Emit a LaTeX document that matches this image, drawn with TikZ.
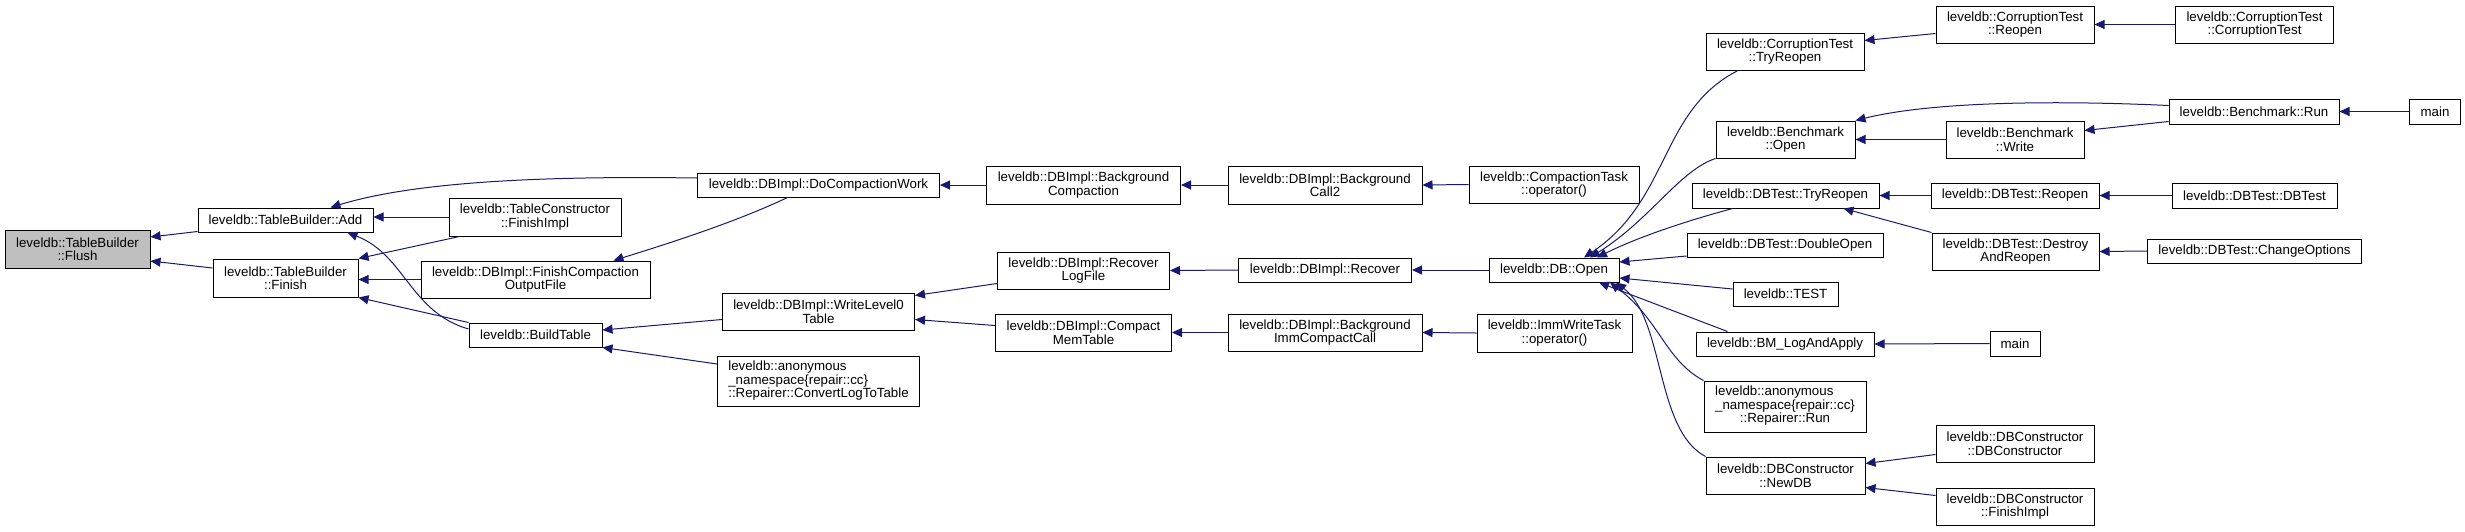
\documentclass[tikz,border=0pt]{standalone}
\usepackage{fontspec}
\setmainfont{Liberation Sans}
\definecolor{edgeBlue}{HTML}{191970}
\definecolor{rootGray}{HTML}{BFBFBF}
\usetikzlibrary{arrows.meta}

\begin{document}
\begin{tikzpicture}[x=1pt, y=-1pt,
    every node/.style={font=\fontsize{13.3}{13.5}\selectfont},
    fn/.style 2 args={draw=black, line width=1pt, fill=white, inner sep=0pt,
      align=center, minimum width=#1, minimum height=#2},
    calls/.style={draw=edgeBlue, line width=1pt, -{Triangle[length=10pt,width=9pt]}}]
  \useasboundingbox (0,0) rectangle (2465,531);
  % TableBuilder side
  \node[fn={145}{38}, fill=rootGray] (flush) at (77.5,249) {leveldb::TableBuilder\\::Flush};
  \node[fn={175}{24}] (add) at (285.5,220) {leveldb::TableBuilder::Add};
  \node[fn={145}{38}] (finish) at (285.5,278) {leveldb::TableBuilder\\::Finish};
  \node[fn={172}{38}] (tcfinish) at (535,217) {leveldb::TableConstructor\\::FinishImpl};
  \node[fn={229}{37}] (fcof) at (535.5,279.5) {leveldb::DBImpl::FinishCompaction\\OutputFile};
  \node[fn={133}{24}] (buildtable) at (535.5,335) {leveldb::BuildTable};
  \node[fn={242}{24}] (docomp) at (818.5,185) {leveldb::DBImpl::DoCompactionWork};
  \node[fn={192}{37}] (wl0) at (818.5,311.5) {leveldb::DBImpl::WriteLevel0\\Table};
  \node[fn={202}{50}, align=left] (convlog) at (818.5,381)
    {leveldb::anonymous\\\_namespace\{repair::cc\}\\::Repairer::ConvertLogToTable};
  % DBImpl chain
  \node[fn={194}{38}] (bgcomp) at (1083.5,185) {leveldb::DBImpl::Background\\Compaction};
  \node[fn={172}{37}] (recoverlog) at (1083.5,270.5) {leveldb::DBImpl::Recover\\LogFile};
  \node[fn={176}{37}] (compactmem) at (1083.5,332.5) {leveldb::DBImpl::Compact\\MemTable};
  \node[fn={194}{38}] (bgcall2) at (1325,185) {leveldb::DBImpl::Background\\Call2};
  \node[fn={173}{24}] (recover) at (1325,270) {leveldb::DBImpl::Recover};
  \node[fn={194}{37}] (bgimm) at (1325,332.5) {leveldb::DBImpl::Background\\ImmCompactCall};
  \node[fn={170}{37}] (ctask) at (1554,184.5) {leveldb::CompactionTask\\::operator()};
  \node[fn={130}{24}] (dbopen) at (1554,270) {leveldb::DB::Open};
  \node[fn={155}{38}] (immtask) at (1554.5,333) {leveldb::ImmWriteTask\\::operator()};
  % callers of DB::Open
  \node[fn={158}{37}] (ctTryReopen) at (1785,51.5) {leveldb::CorruptionTest\\::TryReopen};
  \node[fn={139}{37}] (bmOpen) at (1785.5,139.5) {leveldb::Benchmark\\::Open};
  \node[fn={187}{25}] (dbtTryReopen) at (1785.5,195.5) {leveldb::DBTest::TryReopen};
  \node[fn={196}{24}] (doubleOpen) at (1785,245) {leveldb::DBTest::DoubleOpen};
  \node[fn={105}{24}] (test) at (1785.5,294) {leveldb::TEST};
  \node[fn={178}{24}] (bmLog) at (1785,344) {leveldb::BM\_LogAndApply};
  \node[fn={162}{51}] (repRun) at (1785,406.5)
    {\begin{tabular}{@{}l@{}}leveldb::anonymous\\\_namespace\{repair::cc\}\\
     \multicolumn{1}{@{}c@{}}{::Repairer::Run}\end{tabular}};
  \node[fn={159}{37}] (newdb) at (1785.5,475.5) {leveldb::DBConstructor\\::NewDB};
  % outer callers
  \node[fn={158}{37}] (ctReopen) at (2015,24.5) {leveldb::CorruptionTest\\::Reopen};
  \node[fn={138}{37}] (bmWrite) at (2015,139.5) {leveldb::Benchmark\\::Write};
  \node[fn={168}{25}] (dbtReopen) at (2015,195.5) {leveldb::DBTest::Reopen};
  \node[fn={167}{37}] (destroy) at (2015.5,251.5) {leveldb::DBTest::Destroy\\AndReopen};
  \node[fn={50}{25}] (mainB) at (2015,343.5) {main};
  \node[fn={158}{37}] (dbcDBC) at (2015,443.5) {leveldb::DBConstructor\\::DBConstructor};
  \node[fn={158}{37}] (dbcFinish) at (2015,506.5) {leveldb::DBConstructor\\::FinishImpl};
  \node[fn={158}{37}] (ctCT) at (2254.5,24.5) {leveldb::CorruptionTest\\::CorruptionTest};
  \node[fn={170}{25}] (bmRun) at (2254,111.5) {leveldb::Benchmark::Run};
  \node[fn={165}{25}] (dbtDBTest) at (2254.5,195.5) {leveldb::DBTest::DBTest};
  \node[fn={214}{24}] (changeOpt) at (2254.5,251) {leveldb::DBTest::ChangeOptions};
  \node[fn={51}{25}] (mainA) at (2435,111.5) {main};

  % edges, caller -> callee
  \draw[calls] ([yshift=1pt]add.south west) -- ([yshift=12pt]flush.east);
  \draw[calls] ([yshift=10pt]finish.west) -- ([yshift=-12pt]flush.east);
  \draw[calls] ([yshift=7pt]docomp.west) .. controls (560,176) and (420,180) .. ([xshift=45pt]add.north);
  \draw[calls] (tcfinish.west) -- (tcfinish.west -| add.east);
  \draw[calls] ([yshift=6pt]buildtable.west) .. controls (410,312) and (405,255) .. ([xshift=62pt]add.south);
  \draw[calls] ([xshift=11pt]tcfinish.south west) -- (finish.north east);
  \draw[calls] (fcof.west) -- (fcof.west -| finish.east);
  \draw[calls] (buildtable.north west) -- (finish.south east);
  \draw[calls] ([xshift=-31pt]docomp.south) .. controls (740,220) and (680,240) .. ([xshift=78pt]fcof.north);
  \draw[calls] ([yshift=-8pt]wl0.west) -- ([yshift=5pt]buildtable.east);
  \draw[calls] ([yshift=17pt]convlog.west) -- (buildtable.south east);
  \draw[calls] (bgcomp.west) -- (docomp.east);
  \draw[calls] ([yshift=-13pt]recoverlog.west) -- ([yshift=16pt]wl0.east);
  \draw[calls] ([yshift=7pt]compactmem.west) -- ([yshift=-8pt]wl0.east);
  \draw[calls] (bgcall2.west) -- (bgcomp.east);
  \draw[calls] (recover.west) -- (recoverlog.east);
  \draw[calls] (bgimm.west) -- (compactmem.east);
  \draw[calls] (ctask.west) -- (bgcall2.east);
  \draw[calls] (dbopen.west) -- (recover.east);
  \draw[calls] (immtask.west) -- (bgimm.east);
  % into DB::Open
  \draw[calls] ([xshift=-47pt]ctTryReopen.south) .. controls (1660,110) and (1670,200) .. ([xshift=30pt]dbopen.north);
  \draw[calls] (bmOpen.south west) .. controls (1680,170) and (1650,220) .. ([xshift=36pt]dbopen.north);
  \draw[calls] ([xshift=41pt]dbtTryReopen.south west) .. controls (1690,220) and (1640,236) .. ([xshift=43pt]dbopen.north);
  \draw[calls] ([yshift=-11pt]doubleOpen.west) -- ([yshift=8pt]dbopen.east);
  \draw[calls] ([yshift=5pt]test.west) -- ([yshift=-8pt]dbopen.east);
  \draw[calls] ([xshift=32pt]bmLog.north west) -- ([xshift=45pt]dbopen.south);
  \draw[calls] (repRun.north west) .. controls (1665,360) and (1660,320) .. ([xshift=56pt]dbopen.south);
  \draw[calls] (newdb.north west) .. controls (1655,430) and (1665,320) .. ([xshift=62pt]dbopen.south);
  % outer edges
  \draw[calls] ([yshift=-9pt]ctReopen.west) -- ([yshift=11pt]ctTryReopen.east);
  \draw[calls] (ctCT.west) -- (ctReopen.east);
  \draw[calls] ([yshift=6pt]bmRun.west) .. controls (2050,100) and (1930,102) .. (bmOpen.north east);
  \draw[calls] (bmWrite.west) -- (bmOpen.east);
  \draw[calls] ([yshift=-10pt]bmRun.west) -- ([yshift=9pt]bmWrite.east);
  \draw[calls] (mainA.west) -- (bmRun.east);
  \draw[calls] (dbtReopen.west) -- (dbtTryReopen.east);
  \draw[calls] (destroy.north west) -- ([xshift=58pt]dbtTryReopen.south);
  \draw[calls] (dbtDBTest.west) -- (dbtReopen.east);
  \draw[calls] (changeOpt.west) -- (destroy.east);
  \draw[calls] (mainB.west) -- (bmLog.east);
  \draw[calls] ([yshift=-11pt]dbcDBC.west) -- ([yshift=12pt]newdb.east);
  \draw[calls] ([yshift=11pt]dbcFinish.west) -- ([yshift=-12pt]newdb.east);
\end{tikzpicture}
\end{document}
